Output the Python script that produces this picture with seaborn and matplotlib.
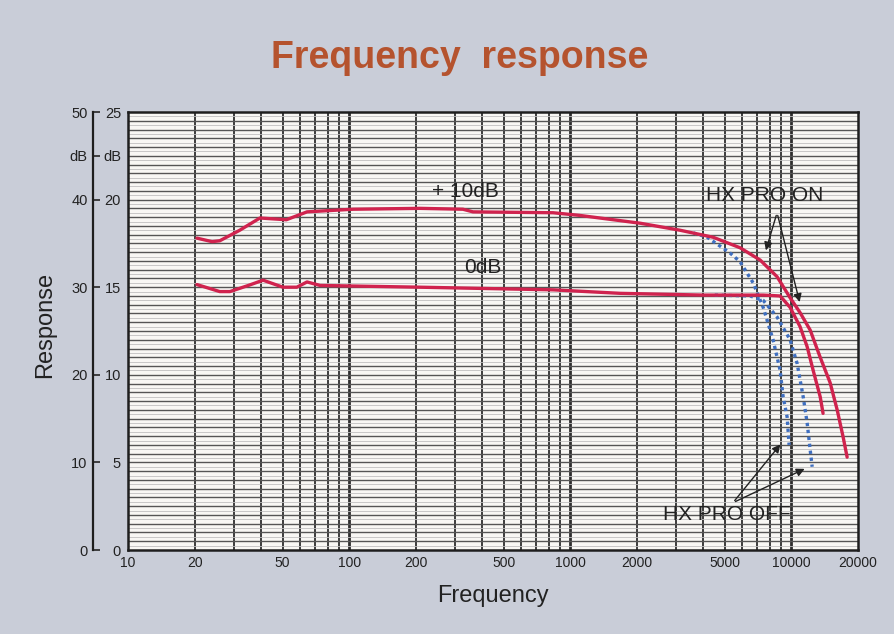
import numpy as np
import seaborn as sns
import matplotlib.pyplot as plt

sns.set_theme(style="white")
plt.rcParams['font.family'] = ['Liberation Sans', 'DejaVu Sans']

# +10dB, HX PRO ON (red)
freq_p10_on = [20.5, 24, 26, 32, 39.5, 52, 64.5, 104, 209, 327, 363, 836, 1100, 1680,
               2075, 3140, 4426, 5860, 7220, 8610, 9860, 10940, 12160, 13490, 14960,
               16100, 17130, 17860]
resp_p10_on = [35.6, 35.2, 35.3, 36.5, 37.9, 37.7, 38.6, 38.9, 39.0, 38.9, 38.6, 38.5, 38.2, 37.6,
               37.3, 36.5, 35.7, 34.5, 33.1, 31.2, 28.8, 27.1, 25.1, 22.0, 19.1,
               16.0, 12.9, 10.6]

# +10dB, HX PRO OFF (blue dotted)
freq_p10_off = [3600, 4160, 5280, 5860, 6710, 7450, 8260, 8890, 9170, 9560, 9760]
resp_p10_off = [36.2, 35.7, 33.9, 32.9, 30.5, 27.7, 24.0, 20.5, 17.5, 15.2, 12.0]

# 0dB, HX PRO ON (red)
freq_0_on = [20.5, 26, 28.9, 35, 40.8, 50.2, 58, 64.5, 73.9, 209, 836, 1680,
             4000, 7450, 8890, 9860, 10940, 11780, 12540, 13490, 13900]
resp_0_on = [30.3, 29.5, 29.5, 30.2, 30.8, 30.0, 30.0, 30.6, 30.2, 30.0, 29.7, 29.3,
             29.1, 29.1, 29.0, 27.7, 25.5, 23.2, 20.5, 17.5, 15.6]

# 0dB, HX PRO OFF (blue dotted)
freq_0_off = [4500, 6500, 7450, 8610, 9860, 10610, 11300, 11780, 12160, 12410]
resp_0_off = [29.1, 29.0, 28.5, 26.6, 24.0, 21.3, 17.5, 14.5, 11.4, 9.5]

x_ticks = [10, 20, 50, 100, 200, 500, 1000, 2000, 5000, 10000, 20000]
y_ticks = [0, 10, 20, 30, 40, 45, 50]
y_outer_labels = ['0', '10', '20', '30', '40', 'dB', '50']
y_inner_labels = ['0', '5', '10', '15', '20', 'dB', '25']

red = '#d0234e'
blue = '#3f6fc0'
ink = '#222222'

fig = plt.figure(figsize=(8.94, 6.34), dpi=100)
fig.patch.set_facecolor('#c9cdd8')
ax = fig.add_axes([128 / 894, 84 / 634, 730 / 894, 438 / 634])
ax.set_facecolor('#f8f7f4')
ax.set_xscale('log')
ax.set_xlim(10, 20000)
ax.set_ylim(0, 50)

# graph paper
for e in range(1, 5):
    for m in range(1, 10):
        f = m * 10 ** e
        if 10 < f < 20000:
            ax.axvline(f, color='#2e2e2e', lw=2.0 if m == 1 else 1.3, zorder=1)
for v in np.arange(0.5, 50, 0.5):
    major = abs(v - round(v)) < 1e-6
    ax.axhline(v, color='#555555' if major else '#c0c0c0',
               lw=1.0 if major else 0.6, zorder=1)

line_kw = dict(ax=ax, sort=False, estimator=None, lw=2.4)
sns.lineplot(x=freq_p10_on, y=resp_p10_on, color=red, zorder=4, **line_kw)
sns.lineplot(x=freq_0_on, y=resp_0_on, color=red, zorder=4, **line_kw)
sns.lineplot(x=freq_p10_off, y=resp_p10_off, color=blue, ls=(0, (1, 1.1)), zorder=3, **line_kw)
sns.lineplot(x=freq_0_off, y=resp_0_off, color=blue, ls=(0, (1, 1.1)), zorder=3, **line_kw)

# labels on the curves
ax.text(334, 40.9, '+ 10dB', fontsize=15, color=ink, ha='center', va='center', zorder=5)
ax.text(403, 32.2, '0dB', fontsize=15, color=ink, ha='center', va='center', zorder=5)
ax.text(7600, 40.5, 'HX PRO ON', fontsize=15, color=ink, ha='center', va='center', zorder=5)
ax.text(5120, 4.0, 'HX PRO OFF', fontsize=15, color=ink, ha='center', va='center', zorder=5)
arrow = dict(arrowstyle='-|>', color=ink, lw=1.0, mutation_scale=12)
ax.annotate('', xy=(7600, 33.9), xytext=(8610, 38.5), arrowprops=arrow, zorder=5)
ax.annotate('', xy=(10970, 28.0), xytext=(8610, 38.5), arrowprops=arrow, zorder=5)
ax.annotate('', xy=(9080, 12.3), xytext=(5440, 5.4), arrowprops=arrow, zorder=5)
ax.annotate('', xy=(11780, 9.4), xytext=(5440, 5.4), arrowprops=arrow, zorder=5)

ax.set_xticks(x_ticks)
ax.set_xticklabels([str(t) for t in x_ticks])
ax.xaxis.set_minor_locator(plt.NullLocator())
ax.tick_params(axis='x', length=0, pad=4, labelsize=10, labelcolor=ink)
ax.set_yticks(y_ticks)
ax.set_yticklabels(y_inner_labels)
ax.tick_params(axis='y', length=0, pad=5, labelsize=10.5, labelcolor=ink)
for s in ax.spines.values():
    s.set_visible(True)
    s.set_color('#1e1e1e')
    s.set_linewidth(1.8)
    s.set_zorder(6)

# outer dB scale on its own spine
ax2 = ax.twinx()
ax2.set_ylim(0, 50)
ax2.yaxis.set_ticks_position('left')
ax2.yaxis.set_label_position('left')
for name, s in ax2.spines.items():
    s.set_visible(name == 'left')
ax2.spines['left'].set_position(('outward', 25))
ax2.spines['left'].set_color('#1e1e1e')
ax2.spines['left'].set_linewidth(1.6)
ax2.set_yticks(y_ticks)
ax2.set_yticklabels(y_outer_labels)
ax2.tick_params(axis='y', direction='in', length=5, width=1.2, pad=4, labelsize=10.5, labelcolor=ink)
ax2.grid(False)

ax.set_xlabel('Frequency', fontsize=17, color=ink, labelpad=11)
fig.text(45 / 894, 1 - 325 / 634, 'Response', fontsize=17, color=ink, rotation=90, ha='center', va='center')
fig.text(460 / 894, 1 - 58 / 634, 'Frequency  response', fontsize=27, fontweight='bold',
         color='#b5532e', ha='center', va='center')

plt.savefig('out.png', dpi=100, facecolor=fig.get_facecolor())
